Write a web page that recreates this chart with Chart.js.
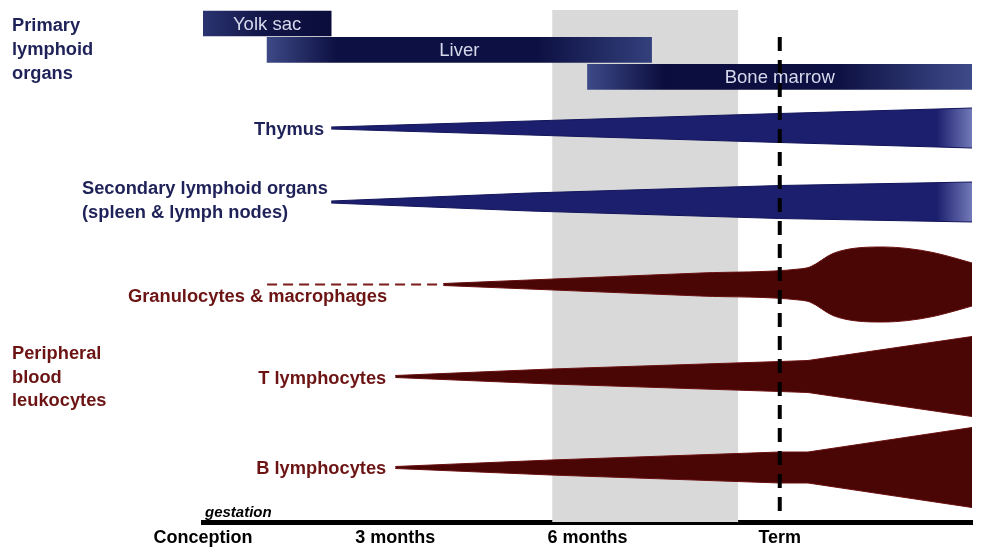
<!DOCTYPE html>
<html>
<head>
<meta charset="utf-8">
<script src="https://cdn.jsdelivr.net/npm/chart.js@4.4.1/dist/chart.umd.min.js"></script>
<style>
  html, body { margin: 0; padding: 0; background: #ffffff; }
  #wrap { width: 981px; height: 548px; }
</style>
</head>
<body>
<div id="wrap"><canvas id="c" width="981" height="548"></canvas></div>
<script>
// ---------------- DATA ----------------
// time axis (months since conception)
const timeTicks = [0, 3, 6, 9];
const timeTickLabels = ['Conception', '3 months', '6 months', 'Term'];
const termMonth = 9;
const shadedPeriod = [5.45, 8.35];

// primary lymphoid organs (floating bars, months)
const primaryOrgans = ['Yolk sac', 'Liver', 'Bone marrow'];
const primaryStart = [0, 1, 6];
const primaryEnd = [2, 7, 12];
const primaryRow = [23.5, 49.8, 76.8];

// wedge rows (vertical lane position)
const wedgeNames = ['Thymus', 'Secondary lymphoid organs', 'Granulocytes & macrophages', 'T lymphocytes', 'B lymphocytes'];
const wedgeRow = [128, 202, 284.5, 376.5, 467.5];

// relative size (half thickness) over time
const thymusMonths = [2.0, 5.1, 9.0, 12.0];
const thymusSize = [1, 7, 14.5, 20];
const secondaryMonths = [2.0, 5.1, 9.0, 12.0];
const secondarySize = [1, 9, 16.5, 20];
const granuloMonths = [3.75, 7.76, 9.3, 9.47, 9.83, 10.2, 10.61, 11.0, 11.39, 11.92, 12.0];
const granuloSize = [1, 11.5, 15.5, 17.5, 31, 36.5, 37.5, 36, 32, 23, 21.5];
const granuloDashedMonths = [1.0, 3.75];
const tCellMonths = [3.0, 5.43, 9.0, 9.44, 12.0];
const tCellSize = [1, 7.5, 15, 16, 40];
const bCellMonths = [3.0, 5.43, 9.0, 9.44, 12.0];
const bCellSize = [1, 7.5, 15.5, 15.5, 40];

// ---------------- STYLE ----------------
const FONT = "'Liberation Sans', Arial, Helvetica, sans-serif";
const NAVY_TEXT = '#1f2258';
const RED_TEXT = '#6c1414';
const BLUE = '#1c1f6e';
const BLUE_EDGE = '#12145a';
const RED = '#4a0505';
const RED_EDGE = '#6a1010';

function edge(months, sizes, row, sign) {
  return months.map((m, i) => ({ x: m, y: row + sign * sizes[i] }));
}

function blueFill(c) {
  const ch = c.chart;
  if (!ch.chartArea) return BLUE;
  const xs = ch.scales.x;
  const g = ch.ctx.createLinearGradient(xs.getPixelForValue(11.45), 0, xs.getPixelForValue(12), 0);
  g.addColorStop(0, BLUE);
  g.addColorStop(1, '#7279b8');
  return g;
}

function wedge(label, months, sizes, row, fillColor, edgeColor, extra) {
  return [
    Object.assign({ type: 'line', label: label + ' upper', data: edge(months, sizes, row, -1),
      borderColor: edgeColor, borderWidth: 1, pointRadius: 0, fill: false, tension: 0, order: 1 }, extra || {}),
    Object.assign({ type: 'line', label: label, data: edge(months, sizes, row, 1),
      borderColor: edgeColor, borderWidth: 1, pointRadius: 0, fill: '-1', backgroundColor: fillColor, tension: 0, order: 1 }, extra || {})
  ];
}

const barGradients = [
  [[0, '#2b3471'], [0.45, '#121648'], [1, '#0a0c3a']],
  [[0, '#3d4986'], [0.18, '#0d1042'], [0.7, '#0d1042'], [1, '#33407c']],
  [[0, '#3d4a88'], [0.2, '#0b0d3e'], [0.65, '#0d1042'], [1, '#3e4b8a']]
];

function barFill(c) {
  const ch = c.chart;
  if (!ch.chartArea || c.dataIndex === undefined) return '#0d1042';
  const xs = ch.scales.x;
  const i = c.dataIndex;
  const g = ch.ctx.createLinearGradient(xs.getPixelForValue(primaryStart[i]), 0, xs.getPixelForValue(primaryEnd[i]), 0);
  barGradients[i].forEach(s => g.addColorStop(s[0], s[1]));
  return g;
}

const datasets = [];
// primary organ bars
datasets.push({
  type: 'bar', label: 'Primary lymphoid organs', indexAxis: 'y',
  data: primaryOrgans.map((n, i) => ({ x: [primaryStart[i], primaryEnd[i]], y: primaryRow[i] })),
  backgroundColor: barFill, borderWidth: 0, barThickness: 25, order: 2
});
datasets.push(...wedge(wedgeNames[0], thymusMonths, thymusSize, wedgeRow[0], blueFill, BLUE_EDGE));
datasets.push(...wedge(wedgeNames[1], secondaryMonths, secondarySize, wedgeRow[1], blueFill, BLUE_EDGE));
datasets.push(...wedge(wedgeNames[2], granuloMonths, granuloSize, wedgeRow[2], RED, RED_EDGE, { cubicInterpolationMode: 'monotone' }));
datasets.push(...wedge(wedgeNames[3], tCellMonths, tCellSize, wedgeRow[3], RED, RED_EDGE));
datasets.push(...wedge(wedgeNames[4], bCellMonths, bCellSize, wedgeRow[4], RED, RED_EDGE));
// dashed early granulocyte line
datasets.push({
  type: 'line', label: 'Granulocytes early', data: granuloDashedMonths.map(m => ({ x: m, y: wedgeRow[2] })),
  borderColor: '#7a1a1a', borderWidth: 2, borderDash: [10, 6], pointRadius: 0, fill: false, order: 1
});
// term line
datasets.push({
  type: 'line', label: 'Term', data: [{ x: termMonth, y: 37 }, { x: termMonth, y: 522 }],
  borderColor: '#000000', borderWidth: 4, borderDash: [14, 9], pointRadius: 0, fill: false, order: -1
});

const textPlugin = {
  id: 'annotText',
  beforeDatasetsDraw(chart) {
    const { ctx, scales: { x, y } } = chart;
    ctx.save();
    ctx.fillStyle = '#d9d9d9';
    const x0 = x.getPixelForValue(shadedPeriod[0]);
    const x1 = x.getPixelForValue(shadedPeriod[1]);
    const y0 = y.getPixelForValue(10);
    const y1 = y.getPixelForValue(522);
    ctx.fillRect(x0, y0, x1 - x0, y1 - y0);
    ctx.restore();
  },
  afterDatasetsDraw(chart) {
    const { ctx, scales: { x } } = chart;
    ctx.save();
    // bar labels
    const meta = chart.getDatasetMeta(0);
    ctx.font = '18.5px ' + FONT;
    ctx.fillStyle = '#d6d9ec';
    ctx.textAlign = 'center';
    ctx.textBaseline = 'middle';
    meta.data.forEach((el, i) => {
      ctx.fillText(primaryOrgans[i], (el.x + el.base) / 2, el.y + 1);
    });

    ctx.textBaseline = 'alphabetic';
    ctx.font = 'bold 18.3px ' + FONT;
    // group labels
    ctx.textAlign = 'left';
    ctx.fillStyle = NAVY_TEXT;
    ['Primary', 'lymphoid', 'organs'].forEach((t, i) => ctx.fillText(t, 12, 31 + i * 24));
    ctx.fillStyle = RED_TEXT;
    ['Peripheral', 'blood', 'leukocytes'].forEach((t, i) => ctx.fillText(t, 12, 359 + i * 23.5));

    // wedge labels
    ctx.fillStyle = NAVY_TEXT;
    ctx.textAlign = 'right';
    ctx.fillText(wedgeNames[0], x.getPixelForValue(thymusMonths[0]) - 7, wedgeRow[0] + 7);
    ctx.textAlign = 'left';
    ctx.fillText(wedgeNames[1], 82, 194);
    ctx.fillText('(spleen & lymph nodes)', 82, 218);

    ctx.fillStyle = RED_TEXT;
    ctx.fillText(wedgeNames[2], 128, 302);
    ctx.textAlign = 'right';
    ctx.fillText(wedgeNames[3], x.getPixelForValue(tCellMonths[0]) - 9, wedgeRow[3] + 7);
    ctx.fillText(wedgeNames[4], x.getPixelForValue(bCellMonths[0]) - 9, wedgeRow[4] + 6.5);

    // gestation
    ctx.textAlign = 'left';
    ctx.fillStyle = '#000000';
    ctx.font = 'italic bold 15px ' + FONT;
    ctx.fillText('gestation', x.getPixelForValue(0) + 2, 517);
    ctx.restore();
  }
};

new Chart(document.getElementById('c'), {
  type: 'line',
  data: { datasets },
  options: {
    responsive: false,
    animation: false,
    events: [],
    layout: { padding: { left: 203, right: 9, top: 0, bottom: 0 } },
    plugins: { legend: { display: false }, tooltip: { enabled: false } },
    scales: {
      x: {
        type: 'linear', min: 0, max: 12, position: 'bottom', offset: false,
        afterBuildTicks: s => { s.ticks = timeTicks.map(v => ({ value: v })); },
        afterFit: s => { s.height = 26; },
        grid: { display: false, drawTicks: false },
        border: { display: true, color: '#000000', width: 5 },
        ticks: {
          color: '#000000', padding: 5, maxRotation: 0, autoSkip: false,
          font: { family: FONT, size: 18, weight: 'bold' },
          callback: v => timeTickLabels[timeTicks.indexOf(v)]
        }
      },
      y: { type: 'linear', min: 0, max: 522, reverse: true, display: false, offset: false }
    }
  },
  plugins: [textPlugin]
});
</script>
</body>
</html>
